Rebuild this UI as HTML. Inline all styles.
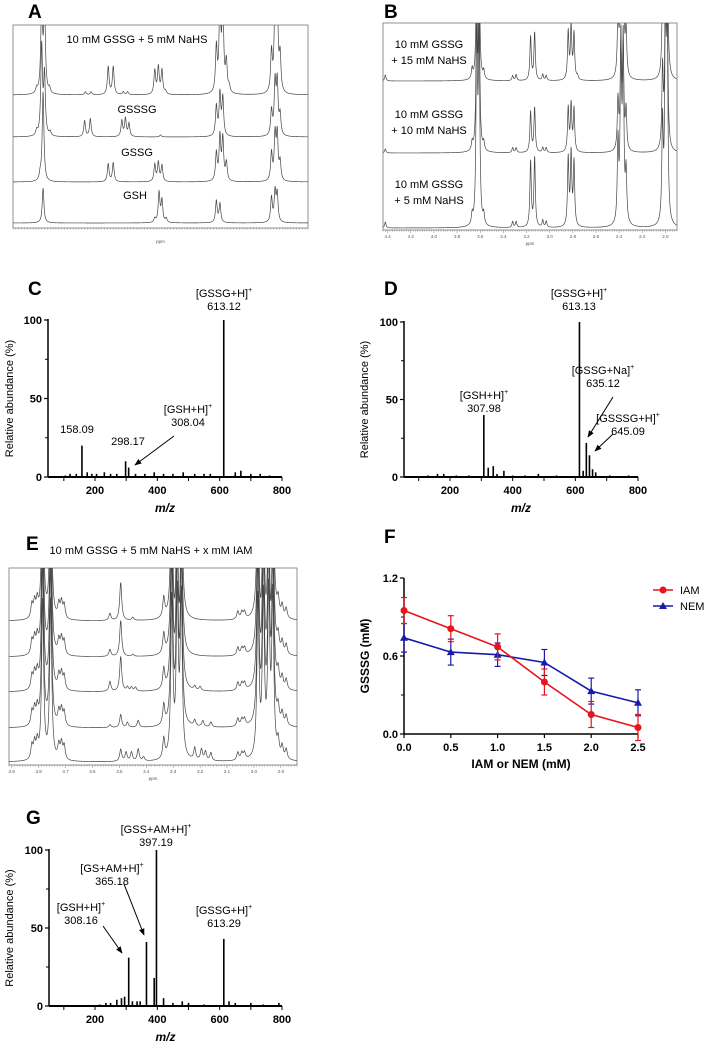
<!DOCTYPE html>
<html><head><meta charset="utf-8"><style>
body{margin:0;background:#fff}
svg{display:block;font-family:"Liberation Sans",Arial,sans-serif}
.pl{font-size:19px;font-weight:bold}
.tk{font-size:11px;font-weight:bold}
.an{font-size:11px}
.ax{font-size:12px;font-weight:bold}
.nt{font-size:4.5px;fill:#555}
</style></head><body>
<svg id="fig" width="709" height="1042" viewBox="0 0 709 1042">
<defs><marker id="ah" viewBox="0 0 10 10" refX="9" refY="5" markerWidth="7" markerHeight="7" orient="auto"><path d="M0,1 L10,5 L0,9 z" fill="#000"/></marker></defs>
</svg>
<script>
// ---- NMR data: [ppm, height(px)] ----
const nmrA = [
 [[3.665,5],[3.63,90],[3.61,90],[3.575,5],[3.325,3],[3.285,3],[3.165,28],[3.13,28],[3.06,3],[3.03,3],[2.84,24],[2.815,27],[2.79,24],[2.765,3],[2.41,45],[2.385,90],[2.365,90],[2.34,30],[2.32,6],[2.025,40],[2.0,90],[1.985,90],[1.965,35]],
 [[3.665,5],[3.63,90],[3.61,60],[3.57,4],[3.33,16],[3.29,18],[3.07,16],[3.045,18],[3.02,13],[2.8,2],[2.41,30],[2.385,42],[2.365,38],[2.025,25],[2.0,52],[1.985,52],[1.965,20]],
 [[3.64,6],[3.62,90],[3.165,18],[3.13,19],[2.84,17],[2.815,19],[2.79,16],[2.41,28],[2.385,44],[2.365,42],[2.34,18],[2.025,28],[2.0,45],[1.985,45],[1.965,18]],
 [[3.62,35],[2.84,4],[2.81,30],[2.79,22],[2.76,4],[2.41,22],[2.385,19],[2.025,25],[2.0,30],[1.985,28]]
];
const nmrB = [
 [[4.42,6],[3.67,10],[3.63,120],[3.61,120],[3.57,8],[3.32,5],[3.29,6],[3.165,44],[3.13,48],[3.06,6],[3.03,5],[2.84,48],[2.815,53],[2.79,46],[2.76,4],[2.41,60],[2.385,150],[2.365,150],[2.34,45],[2.025,80],[2.0,150],[1.985,150]],
 [[4.42,4],[3.67,8],[3.63,150],[3.61,150],[3.57,8],[3.32,5],[3.29,5],[3.165,41],[3.13,45],[3.06,5],[3.03,5],[2.84,44],[2.815,47],[2.79,43],[2.41,50],[2.385,100],[2.365,100],[2.34,40],[2.025,80],[2.0,150],[1.985,150]],
 [[4.42,6],[3.67,10],[3.63,200],[3.61,200],[3.57,10],[3.32,6],[3.29,6],[3.165,66],[3.13,70],[3.06,7],[3.03,6],[2.84,68],[2.815,72],[2.79,64],[2.41,80],[2.385,180],[2.365,180],[2.34,50],[2.025,100],[2.0,200],[1.985,200]]
];
const nmrEcommon = [[3.825,14],[3.815,16],[3.805,16],[3.785,160],[3.755,160],[3.725,14],[3.715,16],[3.705,14],[3.335,20],[3.305,160],[3.285,160],[3.27,160],[3.06,8],[3.045,7],[3.035,7],[2.985,160],[2.965,160],[2.945,160],[2.93,160],[2.91,16],[2.895,12],[2.88,10]];
const nmrEvar = [
 [[3.535,7],[3.495,38],[3.45,3]],
 [[3.535,7],[3.495,36],[3.45,2]],
 [[3.535,10],[3.495,35],[3.47,4],[3.455,4],[3.44,4],[3.22,4],[3.2,4]],
 [[3.535,3],[3.495,13],[3.47,5],[3.43,7],[3.22,6],[3.19,6],[3.16,5]],
 [[3.495,12],[3.475,9],[3.455,9],[3.43,12],[3.41,4],[3.22,12],[3.195,11],[3.18,9],[3.16,8]]
];
// ---- MS data: m/z and relative abundance ----
const msC_mz = [105,120,140,158.09,175,190,205,230,250,270,298.17,308.04,330,360,390,420,450,483,520,550,570,613.12,650,668,700,730,760];
const msC_ab = [1,2,2,20,3,2,2,3,2,2,10,6,2,2,3,2,2,3,2,2,2,100,3,4,2,2,1];
const msD_mz = [130,160,180,220,260,307.98,322,338,350,372,400,440,482,540,613.13,625,635.12,645.09,655,665,710,770];
const msD_ab = [1,2,2,1,1,40,6,7,2,4,1,1,2,1,100,4,22,14,5,3,1,1];
const msG_mz = [215,235,250,270,285,295,308.16,320,335,345,365.18,390,397.19,420,450,480,500,550,613.29,630,650,700,740,790];
const msG_ab = [1,2,2,4,5,6,31,3,3,3,41,18,100,5,2,3,2,1,43,3,2,2,1,2];
// ---- Panel F data ----
const fX = [0,0.5,1.0,1.5,2.0,2.5];
const fIAM = [0.95,0.81,0.67,0.40,0.15,0.05];
const fIAMerr = [0.10,0.10,0.10,0.10,0.10,0.10];
const fNEM = [0.74,0.63,0.61,0.55,0.33,0.24];
const fNEMerr = [0.11,0.10,0.09,0.10,0.10,0.10];
const fYticks = [0.0,0.6,1.2];
const fXticks = [0.0,0.5,1.0,1.5,2.0,2.5];
const msTicksX = [200,400,600,800];
const msTicksY = [0,50,100];

const NS="http://www.w3.org/2000/svg";
const svg=document.getElementById('fig');
function el(tag,attrs,parent){const e=document.createElementNS(NS,tag);for(const k in attrs)e.setAttribute(k,attrs[k]);(parent||svg).appendChild(e);return e;}
function txt(x,y,s,cls,anchor,parent){const t=el('text',{x:x,y:y,class:cls||'an','text-anchor':anchor||'middle'},parent);t.textContent=s;return t;}
function ion(x,y,name,val,parent){const t=el('text',{x:x,y:y,class:'an','text-anchor':'middle'},parent);t.appendChild(document.createTextNode(name));const s=el('tspan',{dy:-5,'font-size':7},t);s.textContent='+';txt(x,y+13,val,'an','middle',parent);}

let clipId=0;
function nmr(name,x0,y0,x1,y1,pMax,pMin,traces,bases,gamma,tickStep,labStep){
  const g=el('g',{});
  el('rect',{x:x0,y:y0,width:x1-x0,height:y1-y0,fill:'none',stroke:'#777','stroke-width':0.8},g);
  const id='c'+(clipId++);const cp=el('clipPath',{id:id},g);el('rect',{x:x0,y:y0,width:x1-x0,height:y1-y0},cp);
  const px=p=>x0+(pMax-p)/(pMax-pMin)*(x1-x0);
  traces.forEach((pk,i)=>{
    let d='';
    for(let x=x0;x<=x1;x+=0.25){const p=pMax-(x-x0)/(x1-x0)*(pMax-pMin);let h=0;pk.forEach(q=>{const dd=p-q[0];h+=q[1]*gamma*gamma/(dd*dd+gamma*gamma);});d+=(d?'L':'M')+x.toFixed(2)+','+(bases[i]-h).toFixed(2);}
    const pa=el('path',{d:d,fill:'none',stroke:'#444','stroke-width':0.7,'clip-path':'url(#'+id+')'},g);
    
  });
  const n=Math.round((pMax-pMin)/tickStep);
  for(let k=0;k<=n;k++){const p=pMax-k*tickStep;const x=px(p);const major=Math.abs(Math.round(p/labStep)*labStep-p)<1e-6;
    el('line',{x1:x,x2:x,y1:y1,y2:y1+(major?3:1.5),stroke:'#777','stroke-width':0.5},g);
    if(major)txt(x,y1+8,p.toFixed(1),'nt','middle',g);}
  txt((x0+x1)/2,y1+15,'ppm','nt','middle',g);
  return g;
}
function ms(name,ox,y0,y100,x200,x800,axStart,mzs,abs){
  const g=el('g',{});
  const sx=m=>x200+(m-200)*(x800-x200)/600, sy=v=>y0+(y100-y0)*v/100;
  mzs.forEach((m,i)=>{const l=el('line',{x1:sx(m),x2:sx(m),y1:y0,y2:sy(abs[i]),stroke:'#000','stroke-width':1.6},g);});
  el('line',{x1:axStart,x2:x800,y1:y0,y2:y0,stroke:'#000','stroke-width':2},g);
  el('line',{x1:axStart,x2:axStart,y1:y0,y2:y100-1,stroke:'#000','stroke-width':1.5},g);
  msTicksY.forEach(v=>{el('line',{x1:axStart-4,x2:axStart,y1:sy(v),y2:sy(v),stroke:'#000','stroke-width':1.2},g);txt(axStart-6,sy(v)+4,v,'tk','end',g);});
  el('line',{x1:axStart-3,x2:axStart,y1:sy(25),y2:sy(25),stroke:'#000'},g);el('line',{x1:axStart-3,x2:axStart,y1:sy(75),y2:sy(75),stroke:'#000'},g);
  [100,200,300,400,500,600,700,800].forEach(m=>el('line',{x1:sx(m),x2:sx(m),y1:y0,y2:y0+4,stroke:'#000','stroke-width':1},g));
  msTicksX.forEach(m=>txt(sx(m),y0+17,m,'tk','middle',g));
  const xt=txt((axStart+x800)/2,y0+35,'m/z','ax','middle',g);xt.setAttribute('font-style','italic');
  const yt=txt(0,0,'Relative abundance (%)','an','middle',g);yt.setAttribute('font-size','13');yt.setAttribute('transform','translate('+(ox+13)+','+((y0+y100)/2)+') rotate(-90)');
  return {g,sx,sy};
}
// Panel labels
[['A',28,18],['B',384,18],['C',28,295],['D',384,295],['E',26,550],['F',384,543],['G',26,824]].forEach(a=>{const t=txt(a[1],a[2],a[0],'pl','start');});

// A
const gA=nmr('nmr-panel-a',13,25,308,228,3.83,1.77,nmrA,[95,137,182,223],0.007,0.02,0.2);
txt(137,43,'10 mM GSSG + 5 mM NaHS','an','middle',gA).setAttribute('font-size','12');
txt(137,113,'GSSSG','an','middle',gA).setAttribute('font-size','12');
txt(137,156,'GSSG','an','middle',gA).setAttribute('font-size','12');
txt(135,199,'GSH','an','middle',gA).setAttribute('font-size','12');
// B
const gB=nmr('nmr-panel-b',383,23,677,230,4.44,1.9,nmrB,[81,153,228],0.007,0.02,0.2);
[['10 mM GSSG',48],['+ 15 mM NaHS',64],['10 mM GSSG',118],['+ 10 mM NaHS',134],['10 mM GSSG',188],['+ 5 mM NaHS',204]].forEach(a=>txt(429,a[1],a[0],'an','middle',gB).setAttribute('font-size','12'));
// E
const eBases=[621,657,692,728,762];
const eTr=nmrEvar.map(v=>nmrEcommon.concat(v));
const gE=nmr('nmr-panel-e',9,568,297,765,3.91,2.84,eTr,eBases,0.0045,0.01,0.1);
txt(151,554,'10 mM GSSG + 5 mM NaHS + x mM IAM','an','middle',gE).setAttribute('font-size','11.5');

// C
const C=ms('ms-panel-c',0,477,320,95,282,48,msC_mz,msC_ab);
ion(224,297,'[GSSG+H]','613.12',C.g);
txt(77,433,'158.09','an','middle',C.g);
txt(128,445,'298.17','an','middle',C.g);
ion(188,413,'[GSH+H]','308.04',C.g);
el('line',{x1:174,x2:135,y1:436,y2:465,stroke:'#000','stroke-width':1,'marker-end':'url(#ah)'},C.g);
// D
const D=ms('ms-panel-d',355,477,322,450,638,404,msD_mz,msD_ab);
ion(579,297,'[GSSG+H]','613.13',D.g);
ion(484,399,'[GSH+H]','307.98',D.g);
ion(603,374,'[GSSG+Na]','635.12',D.g);
ion(628,422,'[GSSSG+H]','645.09',D.g);
el('line',{x1:613,x2:588,y1:397,y2:437,stroke:'#000','stroke-width':1,'marker-end':'url(#ah)'},D.g);
el('line',{x1:613,x2:595,y1:434,y2:451,stroke:'#000','stroke-width':1,'marker-end':'url(#ah)'},D.g);
// G
const G=ms('ms-panel-g',0,1006,850,95,282,49,msG_mz,msG_ab);
ion(156,833,'[GSS+AM+H]','397.19',G.g);
ion(112,872,'[GS+AM+H]','365.18',G.g);
ion(81,911,'[GSH+H]','308.16',G.g);
ion(224,914,'[GSSG+H]','613.29',G.g);
el('line',{x1:124,x2:144,y1:884,y2:935,stroke:'#000','stroke-width':1,'marker-end':'url(#ah)'},G.g);
el('line',{x1:103,x2:122,y1:926,y2:953,stroke:'#000','stroke-width':1,'marker-end':'url(#ah)'},G.g);

// F
(function(){
  const g=el('g',{});
  const X0=404,X1=638,Y0=734,Y1=578;
  const sx=v=>X0+v/2.5*(X1-X0), sy=v=>Y0-v/1.2*(Y0-Y1);
  el('line',{x1:X0,x2:X1,y1:Y0,y2:Y0,stroke:'#000','stroke-width':1.5},g);
  el('line',{x1:X0,x2:X0,y1:Y0,y2:Y1,stroke:'#000','stroke-width':1.5},g);
  fYticks.forEach(v=>{el('line',{x1:X0-4,x2:X0,y1:sy(v),y2:sy(v),stroke:'#000','stroke-width':1.2},g);txt(X0-6,sy(v)+4,v.toFixed(1),'tk','end',g);});
  [0.3,0.9].forEach(v=>el('line',{x1:X0-3,x2:X0,y1:sy(v),y2:sy(v),stroke:'#000'},g));
  fXticks.forEach(v=>{el('line',{x1:sx(v),x2:sx(v),y1:Y0,y2:Y0+4,stroke:'#000','stroke-width':1.2},g);txt(sx(v),Y0+17,v.toFixed(1),'tk','middle',g);});
  txt((X0+X1)/2,Y0+34,'IAM or NEM (mM)','ax','middle',g);
  const yt=txt(0,0,'GSSSG (mM)','ax','middle',g);yt.setAttribute('transform','translate(369,'+((Y0+Y1)/2)+') rotate(-90)');
  function series(name,vals,errs,col,tri){
    const sg=el('g',{},g);
    el('polyline',{points:vals.map((v,i)=>sx(fX[i])+','+sy(v)).join(' '),fill:'none',stroke:col,'stroke-width':1.6},sg);
    vals.forEach((v,i)=>{const x=sx(fX[i]);
      el('line',{x1:x,x2:x,y1:sy(v-errs[i]),y2:sy(v+errs[i]),stroke:col,'stroke-width':1.2},sg);
      [v-errs[i],v+errs[i]].forEach(e=>el('line',{x1:x-3,x2:x+3,y1:sy(e),y2:sy(e),stroke:col,'stroke-width':1.2},sg));
      const m=tri?el('polygon',{points:(x)+','+(sy(v)-4)+' '+(x-4)+','+(sy(v)+3)+' '+(x+4)+','+(sy(v)+3),fill:col},sg):el('circle',{cx:x,cy:sy(v),r:3.5,fill:col},sg);
      
    });
  }
  series('series-nem',fNEM,fNEMerr,'#1a1aaa',true);
  series('series-iam',fIAM,fIAMerr,'#e8141c',false);
  const lg=el('g',{},g);
  el('line',{x1:653,x2:673,y1:590,y2:590,stroke:'#e8141c','stroke-width':1.6},lg);el('circle',{cx:663,cy:590,r:3.5,fill:'#e8141c'},lg);
  txt(680,594,'IAM','an','start',lg).setAttribute('font-size','12');
  el('line',{x1:653,x2:673,y1:606,y2:606,stroke:'#1a1aaa','stroke-width':1.6},lg);el('polygon',{points:'663,602 659,609 667,609',fill:'#1a1aaa'},lg);
  txt(680,610,'NEM','an','start',lg).setAttribute('font-size','12');
})();
</script>
</body></html>
